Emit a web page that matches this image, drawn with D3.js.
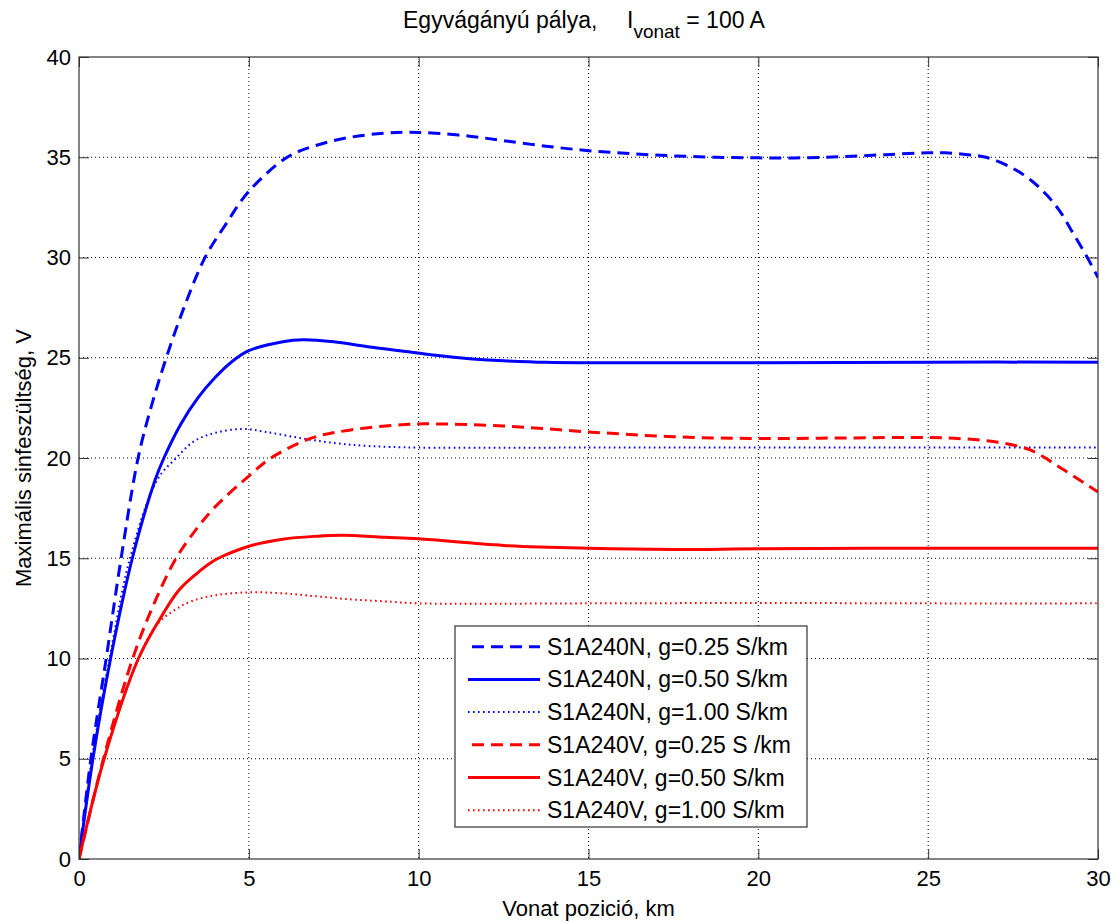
<!DOCTYPE html>
<html>
<head>
<meta charset="utf-8">
<script src="https://cdn.jsdelivr.net/npm/d3@7"></script>
<style>
  body { margin: 0; background: #fff; }
  text { font-family: Arial, "Liberation Sans", sans-serif; fill: #000; }
</style>
</head>
<body>
<script>
// canvas
var w = 1111;
var h = 922;
var plotLeft = 79, plotTop = 57, plotRight = 1098, plotBottom = 859;

// data (km, V)
var xTicks = [0, 5, 10, 15, 20, 25, 30];
var yTicks = [0, 5, 10, 15, 20, 25, 30, 35, 40];

var kmN025 = [0, 0.35, 0.8, 1.24, 1.74, 2.15, 2.57, 3.09, 3.71, 4.3, 5, 6.13, 7, 8, 9, 9.7, 10.5, 11.5, 12.5, 13.75, 15, 16.25, 17.5, 18.75, 20, 21.25, 22.5, 23.75, 25, 25.5, 26.1, 26.7, 27.5, 28.08, 28.5, 28.88, 29.27, 29.67, 30];
var vN025  = [0, 5, 10, 15, 20, 22.7, 25, 27.5, 30, 31.6, 33.3, 35, 35.6, 36.0, 36.2, 36.25, 36.2, 36.05, 35.83, 35.55, 35.33, 35.18, 35.07, 35.0, 34.97, 34.97, 35.03, 35.13, 35.22, 35.22, 35.14, 35.0, 34.44, 33.78, 33.1, 32.3, 31.2, 30.05, 29.0];

var kmN050 = [0, 0.41, 0.93, 1.57, 2.24, 2.5, 3, 3.5, 4, 4.5, 5, 6, 6.6, 7.5, 8.5, 9.7, 10.5, 11.5, 12.5, 13.75, 15, 20, 25, 30];
var vN050  = [0, 5, 10, 15, 18.9, 20, 21.7, 23.0, 24.0, 24.8, 25.35, 25.8, 25.9, 25.8, 25.55, 25.3, 25.12, 24.95, 24.85, 24.77, 24.75, 24.75, 24.78, 24.78];

var kmN100 = [0, 0.38, 0.9, 1.5, 2.3, 2.86, 3.4, 4, 4.8, 5.5, 6.5, 7.5, 8.5, 10, 15, 20, 25, 30];
var vN100  = [0, 5, 10, 15, 18.9, 20, 20.85, 21.25, 21.45, 21.3, 21.0, 20.75, 20.6, 20.52, 20.52, 20.52, 20.52, 20.52];

var kmV025 = [0, 0.72, 1.58, 2.2, 2.86, 3.5, 4, 5, 5.65, 6.86, 8, 9.7, 10.5, 12.5, 15, 17.5, 20, 22.5, 25, 26, 27, 28, 29, 30];
var vV025  = [0, 5, 10, 12.7, 15, 16.55, 17.55, 19.1, 20, 21.0, 21.4, 21.68, 21.7, 21.6, 21.3, 21.06, 20.97, 21.0, 21.02, 20.96, 20.8, 20.4, 19.4, 18.3];

var kmV050 = [0, 0.74, 1.75, 2.5, 2.94, 3.44, 3.9, 4.3, 5, 6, 7, 7.75, 9, 10, 12.5, 15, 17.5, 20, 25, 30];
var vV050  = [0, 5, 10, 12.3, 13.4, 14.2, 14.8, 15.15, 15.6, 15.95, 16.1, 16.15, 16.05, 15.97, 15.64, 15.5, 15.44, 15.47, 15.5, 15.5];

var kmV100 = [0, 0.74, 1.75, 2.3, 2.8, 3.3, 4, 5, 6, 7, 8, 9, 10, 15, 20, 25, 30];
var vV100  = [0, 5, 10, 11.7, 12.4, 12.85, 13.15, 13.3, 13.25, 13.1, 12.95, 12.85, 12.75, 12.75, 12.77, 12.75, 12.75];

var seriesNames = ["S1A240N, g=0.25 S/km", "S1A240N, g=0.50 S/km", "S1A240N, g=1.00 S/km",
                   "S1A240V, g=0.25 S /km", "S1A240V, g=0.50 S/km", "S1A240V, g=1.00 S/km"];

var series = [
  {name: seriesNames[0], xs: kmN025, ys: vN025, color: "#0000ff", style: "dash"},
  {name: seriesNames[1], xs: kmN050, ys: vN050, color: "#0000ff", style: "solid"},
  {name: seriesNames[2], xs: kmN100, ys: vN100, color: "#0000ff", style: "dot"},
  {name: seriesNames[3], xs: kmV025, ys: vV025, color: "#ff0000", style: "dash"},
  {name: seriesNames[4], xs: kmV050, ys: vV050, color: "#ff0000", style: "solid"},
  {name: seriesNames[5], xs: kmV100, ys: vV100, color: "#ff0000", style: "dot"}
];

var styles = {
  dash:  {width: 3, dash: "12,7"},
  solid: {width: 3, dash: null},
  dot:   {width: 2, dash: "1.6,3.4"}
};

var svg = d3.select("body").append("svg")
  .attr("width", w)
  .attr("height", h);

var x = d3.scaleLinear().domain([0, 30]).range([plotLeft, plotRight]);
var y = d3.scaleLinear().domain([0, 40]).range([plotBottom, plotTop]);

// grid
svg.append("g").selectAll("line")
  .data(xTicks.slice(1, -1))
  .join("line")
  .attr("x1", d => x(d)).attr("x2", d => x(d))
  .attr("y1", plotTop).attr("y2", plotBottom)
  .attr("stroke", "#000").attr("stroke-width", 1).attr("stroke-dasharray", "1,3");
svg.append("g").selectAll("line")
  .data(yTicks.slice(1, -1))
  .join("line")
  .attr("x1", plotLeft).attr("x2", plotRight)
  .attr("y1", d => y(d)).attr("y2", d => y(d))
  .attr("stroke", "#000").attr("stroke-width", 1).attr("stroke-dasharray", "1,3");

// curves
svg.append("clipPath").attr("id", "plot")
  .append("rect").attr("x", plotLeft).attr("y", plotTop)
  .attr("width", plotRight - plotLeft).attr("height", plotBottom - plotTop);

var line = d3.line()
  .x(d => x(d[0]))
  .y(d => y(d[1]))
  .curve(d3.curveCatmullRom.alpha(0.5));

svg.append("g").attr("clip-path", "url(#plot)")
  .selectAll("path")
  .data(series)
  .join("path")
  .attr("d", s => line(d3.zip(s.xs, s.ys)))
  .attr("fill", "none")
  .attr("stroke", s => s.color)
  .attr("stroke-width", s => styles[s.style].width)
  .attr("stroke-dasharray", s => styles[s.style].dash)
  .attr("stroke-linejoin", "round");

// axes: inward ticks on all four sides
var axisColor = "#333";
var tl = 10;
svg.append("g").attr("transform", "translate(0," + plotBottom + ")")
  .call(d3.axisBottom(x).tickValues(xTicks).tickSizeInner(-tl).tickSizeOuter(0).tickPadding(11))
  .call(g => g.select(".domain").remove());
svg.append("g").attr("transform", "translate(0," + plotTop + ")")
  .call(d3.axisTop(x).tickValues(xTicks).tickSizeInner(-tl).tickSizeOuter(0).tickFormat(""))
  .call(g => g.select(".domain").remove());
svg.append("g").attr("transform", "translate(" + plotLeft + ",0)")
  .call(d3.axisLeft(y).tickValues(yTicks).tickSizeInner(-tl).tickSizeOuter(0).tickPadding(8))
  .call(g => g.select(".domain").remove());
svg.append("g").attr("transform", "translate(" + plotRight + ",0)")
  .call(d3.axisRight(y).tickValues(yTicks).tickSizeInner(-tl).tickSizeOuter(0).tickFormat(""))
  .call(g => g.select(".domain").remove());

svg.selectAll(".tick line").attr("stroke", axisColor);
svg.selectAll(".tick text").attr("font-size", 22).attr("font-family", "Arial, 'Liberation Sans', sans-serif").attr("fill", "#000");

svg.append("rect")
  .attr("x", plotLeft).attr("y", plotTop)
  .attr("width", plotRight - plotLeft).attr("height", plotBottom - plotTop)
  .attr("fill", "none").attr("stroke", axisColor).attr("stroke-width", 1.2);

// title
var title = svg.append("text")
  .attr("x", 403).attr("y", 28)
  .attr("font-size", 23);
title.append("tspan").text("Egyvágányú pálya,");
title.append("tspan").attr("x", 627).text("I");
title.append("tspan").attr("font-size", 19).attr("dy", 10).text("vonat");
title.append("tspan").attr("dy", -10).text(" = 100 A");

// axis labels
svg.append("text")
  .attr("x", (plotLeft + plotRight) / 2).attr("y", 916)
  .attr("text-anchor", "middle")
  .attr("font-size", 22)
  .text("Vonat pozició, km");

svg.append("text")
  .attr("transform", "translate(31," + (plotTop + plotBottom) / 2 + ") rotate(-90)")
  .attr("text-anchor", "middle")
  .attr("font-size", 22)
  .text("Maximális sinfeszültség, V");

// legend
var lg = svg.append("g").attr("transform", "translate(455,626)");
lg.append("rect")
  .attr("width", 352).attr("height", 201)
  .attr("fill", "#fff").attr("stroke", axisColor).attr("stroke-width", 1.2);

var item = lg.selectAll("g.item")
  .data(series)
  .join("g")
  .attr("class", "item")
  .attr("transform", (d, i) => "translate(0," + (20.7 + i * 32.7) + ")");

item.append("line")
  .attr("x1", d => d.style === "dash" ? 17 : 13).attr("x2", 85)
  .attr("stroke", d => d.color)
  .attr("stroke-width", d => styles[d.style].width)
  .attr("stroke-dasharray", d => styles[d.style].dash);

item.append("text")
  .attr("x", 92).attr("dy", "0.35em")
  .attr("font-size", 23)
  .text(d => d.name);
</script>
</body>
</html>
